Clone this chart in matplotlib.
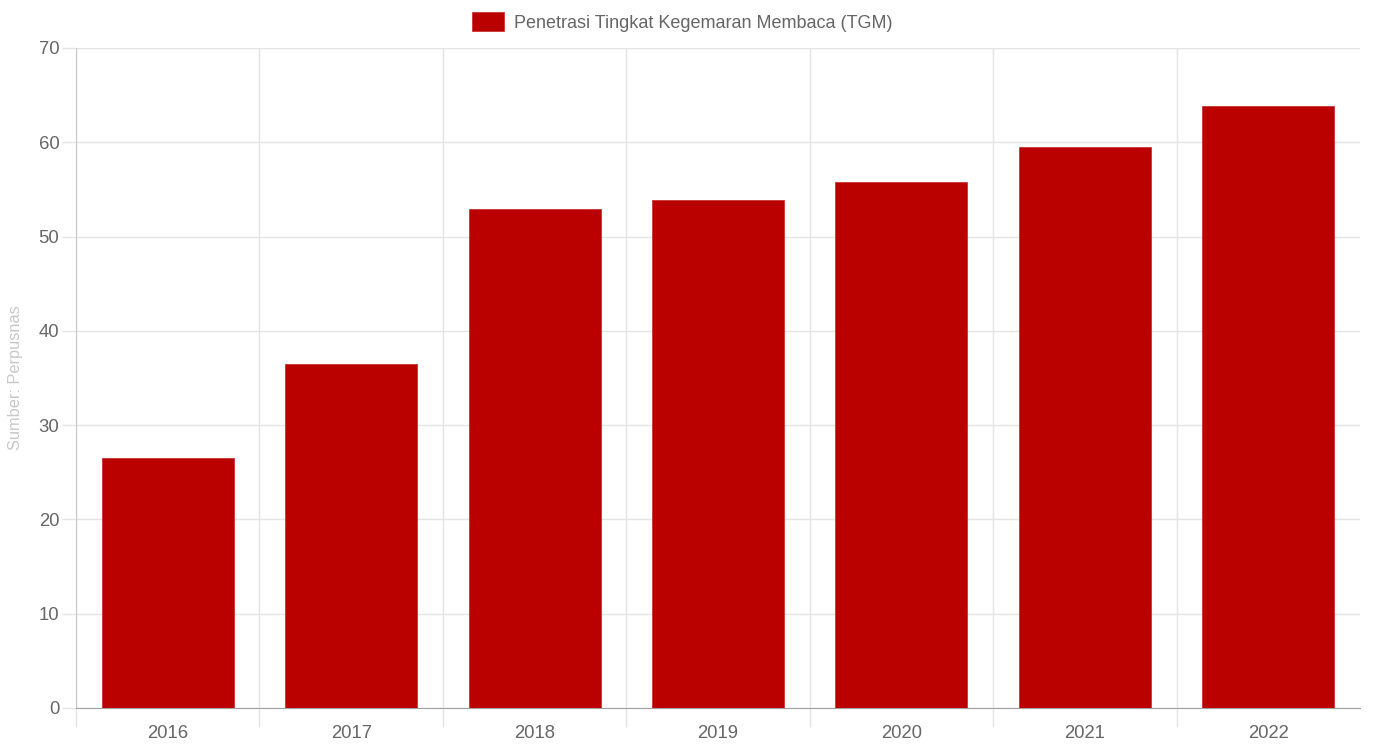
import matplotlib.pyplot as plt
import numpy as np

# data
years = ['2016', '2017', '2018', '2019', '2020', '2021', '2022']
tgm = [26.5, 36.48, 52.92, 53.84, 55.74, 59.52, 63.9]

plt.rcParams['font.family'] = ['Liberation Sans', 'DejaVu Sans']

fig = plt.figure(figsize=(13.83, 7.5), dpi=100)
ax = fig.add_axes([76 / 1383, 1 - 708 / 750, (1360 - 76) / 1383, (708 - 48) / 750])

x = np.arange(len(years))
ax.bar(x, tgm, width=0.72, color='#bb0000', edgecolor='#cc3333', linewidth=0.6,
       label='Penetrasi Tingkat Kegemaran Membaca (TGM)', zorder=3)

ax.set_xlim(-0.5, len(years) - 0.5)
ax.set_ylim(0, 70)
ax.set_yticks(range(0, 71, 10))
ax.set_xticks(x)
ax.set_xticklabels(years)

# gridlines at category boundaries
ax.set_xticks(np.arange(-0.5, len(years) - 1, 1), minor=True)
ax.grid(axis='y', color='#e4e4e4', linewidth=1, zorder=0)
ax.grid(axis='x', which='minor', color='#e4e4e4', linewidth=1, zorder=0)
ax.tick_params(axis='x', which='major', length=0, pad=12, labelsize=13.3, labelcolor='#666666')
ax.tick_params(axis='x', which='minor', length=14, color='#e4e4e4', width=1)
ax.tick_params(axis='y', length=10, color='#e4e4e4', width=1, pad=2, labelsize=13.3, labelcolor='#666666')

for s in ['top', 'right']:
    ax.spines[s].set_visible(False)
ax.spines['left'].set_color('#c8c8c8')
ax.spines['bottom'].set_color('#a0a0a0')

ax.set_ylabel('Sumber: Perpusnas', color='#c8c8c8', fontsize=11.8)
ax.yaxis.set_label_coords(-0.0415, 0.5)

leg = fig.legend(loc='upper center', bbox_to_anchor=(0.4935, 1.0), frameon=False,
                 fontsize=13.0, handlelength=1.75, handleheight=1.3, handletextpad=0.55,
                 borderaxespad=0.25)
for t in leg.get_texts():
    t.set_color('#666666')

fig.savefig('out.png', dpi=100)
